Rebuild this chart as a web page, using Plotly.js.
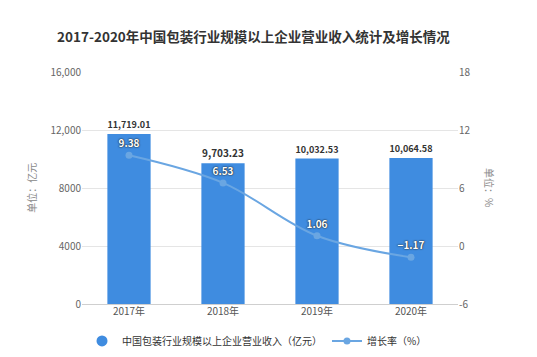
<!DOCTYPE html>
<html><head><meta charset="utf-8">
<script src="https://cdn.plot.ly/plotly-3.0.1.min.js"></script>
<style>html,body{margin:0;padding:0;background:#fff}#c{width:537px;height:357px}</style>
</head><body><div id="c"></div>
<script>
const categories = ["2017年","2018年","2019年","2020年"];
const revenue = [11719.01, 9703.23, 10032.53, 10064.58];
const growth = [9.38, 6.53, 1.06, -1.17];
const leftTicks = [0, 4000, 8000, 12000, 16000];
const leftTickText = ["0", "4000", "8000", "12,000", "16,000"];
const rightTicks = [-6, 0, 6, 12, 18];
const rightTickText = ["-6", "0", "6", "12", "18"];

const FONT = '"Noto Sans CJK SC", "Noto Sans", sans-serif';
const BAR = '#3f8ce0', LINE = '#6aa6e2';
const data = [
  {type:'bar', x:categories, y:revenue, name:'中国包装行业规模以上企业营业收入（亿元）', showlegend:false,
   marker:{color:BAR}, width:0.46,
   text: revenue.map(v=>v.toLocaleString('en-US',{minimumFractionDigits:2,maximumFractionDigits:2})),
   textposition:'outside', cliponaxis:false,
   textfont:{family:FONT, size:10, color:'#333', weight:'bold'}, hoverinfo:'none'},
  {type:'scatter', mode:'markers', x:[null], y:[null], name:'中国包装行业规模以上企业营业收入（亿元）',
   marker:{color:BAR, size:11, symbol:'circle'}, hoverinfo:'none'},
  {type:'scatter', mode:'lines+markers+text', x:categories, y:growth, yaxis:'y2', name:'增长率（%）',
   line:{color:LINE, width:2, shape:'spline'}, marker:{color:LINE, size:7},
   text: growth.map(v=>v<0?('−'+Math.abs(v).toFixed(2)):v.toFixed(2)), textposition:'top center',
   textfont:{family:FONT, size:10, color:'#ffffff', weight:'bold', shadow:'0 0 2px #222, 0 0 1px #222'}, cliponaxis:false, hoverinfo:'none'}
];
const layout = {
  width:537, height:357, margin:{l:82, r:79, t:72, b:53},
  paper_bgcolor:'#fff', plot_bgcolor:'#fff',
  font:{family:FONT, size:10, color:'#666'},
  title:{text:'2017-2020年中国包装行业规模以上企业营业收入统计及增长情况', xref:'container', x:0.472, xanchor:'center', y:0.895, yanchor:'middle',
         font:{family:FONT, size:13.5, color:'#333', weight:'bold'}},
  showlegend:true,
  legend:{orientation:'h', xref:'container', x:0.1527, xanchor:'left', yref:'container', y:0.045, yanchor:'middle',
          font:{family:FONT, size:10, color:'#333'}, itemwidth:30, traceorder:'normal'},
  bargap:0.5,
  xaxis:{showgrid:false, showline:false, ticks:'', tickfont:{size:10, color:'#555'}, fixedrange:true},
  yaxis:{range:[0,16000], tickvals:leftTicks, ticktext:leftTickText, showgrid:true, gridcolor:'#e5e5e5', zeroline:true, zerolinecolor:'#cfcfcf', ticks:'', tickfont:{size:10, color:'#666'}},
  yaxis2:{range:[-6,18], overlaying:'y', side:'right', tickvals:rightTicks, ticktext:rightTickText, showgrid:false, zeroline:false, ticks:'', tickfont:{size:10, color:'#666'}},
  annotations:[
    {text:'单位：亿元', xref:'paper', yref:'paper', x:-0.136, xanchor:'center', y:0.5, yanchor:'middle', textangle:-90, showarrow:false, font:{family:FONT, size:10, color:'#888'}},
    {text:'单位：%', xref:'paper', yref:'paper', x:1.085, xanchor:'center', y:0.5, yanchor:'middle', textangle:90, showarrow:false, font:{family:FONT, size:10, color:'#888'}}
  ]
};
Plotly.newPlot('c', data, layout, {displayModeBar:false, staticPlot:true});
</script></body></html>
